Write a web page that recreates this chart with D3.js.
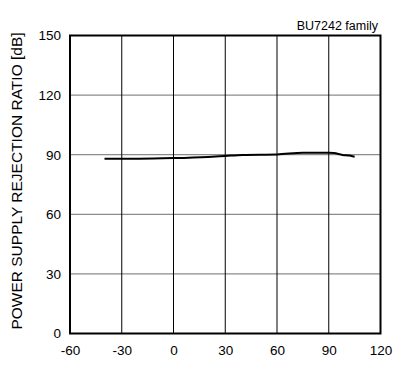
<!DOCTYPE html>
<html>
<head>
<meta charset="utf-8">
<script src="https://cdn.jsdelivr.net/npm/d3@7"></script>
<style>
  html, body { margin: 0; padding: 0; background: #fff; }
  svg { display: block; font-family: "Liberation Sans", Arial, sans-serif; }
</style>
</head>
<body>
<svg id="chart" width="393" height="372"></svg>
<script>
// Data
const temperatures = [-40, -20, 0, 20, 30, 40, 60, 75, 90, 93, 98, 102, 105];
const psrrValues   = [88.0, 88.0, 88.3, 88.9, 89.4, 89.9, 90.1, 91.0, 91.0, 90.8, 89.9, 89.6, 89.0];
const xTicks = [-60, -30, 0, 30, 60, 90, 120];
const yTicks = [0, 30, 60, 90, 120, 150];
const yLabel = "POWER SUPPLY REJECTION RATIO [dB]";
const familyLabel = "BU7242 family";

(function () {
const svg = d3.select("#chart");
const mLeft = 70, mRight = 380.5, mTop = 35.5, mBottom = 333.5;

const x = d3.scaleLinear().domain([-60, 120]).range([mLeft, mRight]);
const y = d3.scaleLinear().domain([0, 150]).range([mBottom, mTop]);

// horizontal grid (gray)
svg.append("g").selectAll("line").data(yTicks.filter(d => d > 0 && d < 150)).join("line")
  .attr("x1", mLeft).attr("x2", mRight)
  .attr("y1", d => y(d)).attr("y2", d => y(d))
  .attr("stroke", "#8c8c8c").attr("stroke-width", 1.2);

// vertical grid (black)
svg.append("g").selectAll("line").data(xTicks.filter(d => d > -60 && d < 120)).join("line")
  .attr("x1", d => x(d)).attr("x2", d => x(d))
  .attr("y1", mTop).attr("y2", mBottom)
  .attr("stroke", "#000").attr("stroke-width", 1);

// data line
const line = d3.line().x((d, i) => x(temperatures[i])).y(d => y(d)).curve(d3.curveMonotoneX);
svg.append("path").datum(psrrValues)
  .attr("d", line).attr("fill", "none").attr("stroke", "#000").attr("stroke-width", 2);

// frame
svg.append("rect").attr("x", mLeft).attr("y", mTop)
  .attr("width", mRight - mLeft).attr("height", mBottom - mTop)
  .attr("fill", "none").attr("stroke", "#000").attr("stroke-width", 2);

const fmt = d => String(d);

// axes labels via d3 axes (tick lines hidden)
const xAxis = d3.axisBottom(x).tickValues(xTicks).tickSize(0).tickPadding(12).tickFormat(fmt);
const gx = svg.append("g").attr("transform", `translate(0,${mBottom})`).call(xAxis);
gx.select(".domain").remove();
gx.selectAll("text").attr("font-size", 13.5).attr("font-family", "Liberation Sans, Arial, sans-serif").attr("fill", "#000");

const yAxis = d3.axisLeft(y).tickValues(yTicks).tickSize(0).tickPadding(9).tickFormat(fmt);
const gy = svg.append("g").attr("transform", `translate(${mLeft},0)`).call(yAxis);
gy.select(".domain").remove();
gy.selectAll("text").attr("font-size", 13.5).attr("font-family", "Liberation Sans, Arial, sans-serif").attr("fill", "#000");

// y axis title
svg.append("text")
  .attr("transform", `translate(22,181) rotate(-90)`)
  .attr("text-anchor", "middle")
  .attr("font-size", 15.5)
  .text(yLabel);

// family label
svg.append("text")
  .attr("x", 378).attr("y", 30)
  .attr("text-anchor", "end")
  .attr("font-size", 12.5)
  .text(familyLabel);
})();
</script>
</body>
</html>
